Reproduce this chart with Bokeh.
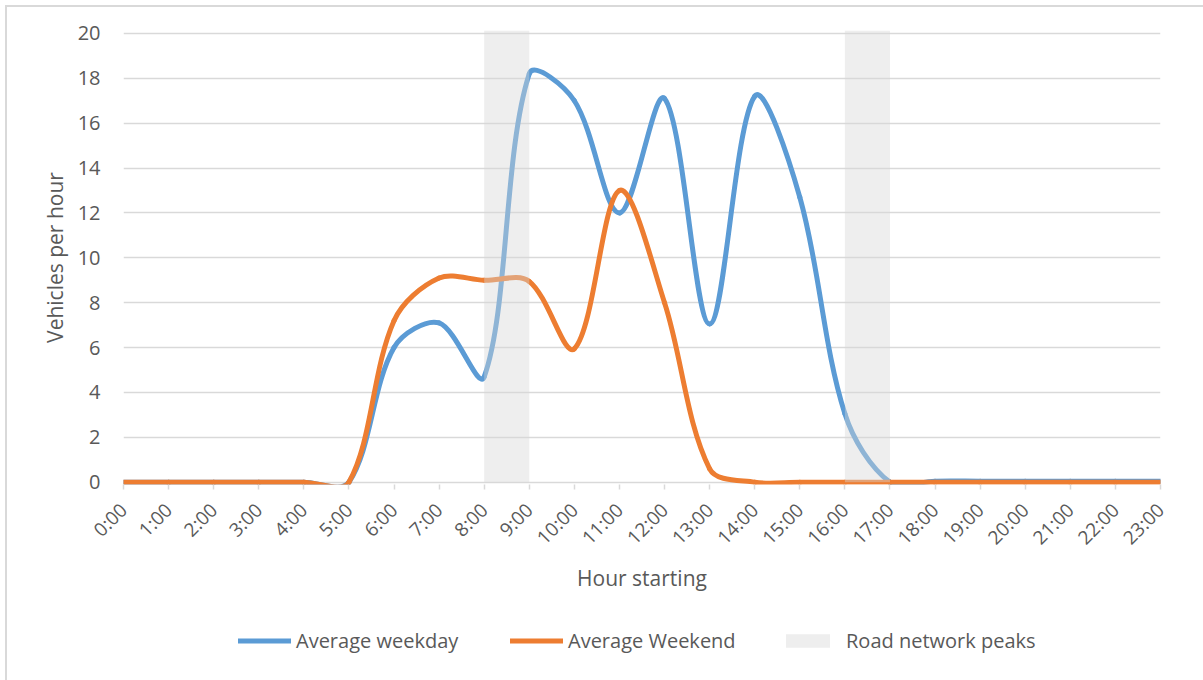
import numpy as np
from bokeh.plotting import figure
from bokeh.layouts import column
from bokeh.models import Range1d, FixedTicker, Legend, LegendItem, ColumnDataSource
from bokeh.embed import file_html
from bokeh.resources import INLINE

# ---------------- data ----------------
hour_labels = ["0:00", "1:00", "2:00", "3:00", "4:00", "5:00", "6:00", "7:00",
               "8:00", "9:00", "10:00", "11:00", "12:00", "13:00", "14:00", "15:00",
               "16:00", "17:00", "18:00", "19:00", "20:00", "21:00", "22:00", "23:00"]
hours = list(range(24))
weekday = [0, 0, 0, 0, 0, 0, 6.0, 7.1, 4.7, 18.2, 17.0, 12.0,
           17.1, 7.05, 17.2, 12.7, 3.05, 0, 0.05, 0.05, 0.05, 0.05, 0.05, 0.05]
weekend = [0, 0, 0, 0, 0, 0, 7.2, 9.1, 9.0, 8.95, 5.95, 13.0,
           8.0, 0.6, 0, 0, 0, 0, 0, 0, 0, 0, 0, 0]
peak_start = [8, 16]
peak_end = [9, 17]
peak_top = [20.13, 20.13]
y_ticks = [0, 2, 4, 6, 8, 10, 12, 14, 16, 18, 20]
series_names = ["Average weekday", "Average Weekend", "Road network peaks"]

# ---------------- layout ----------------
W = 1203
ML, MR, MT, MB = 123, 43, 30, 126
FW, FH = 1037, 454
LEG_H = 70
Y0, Y1 = -0.1, 20.13
SX = FW / 23.0
SY = FH / (Y1 - Y0)

FONT = "Open Sans"
TXT = "#595959"
BLUE = "#5b9bd5"
ORANGE = "#ed7d31"
BAND = "#d6d6d6"
BAND_ALPHA = 0.42
LW = 5
NAN = float("nan")


def smooth_segments(xs, ys):
    """Bezier segments through the data points (Excel-like smoothing,
    computed in screen space)."""
    X = np.asarray(xs, float) * SX
    Y = np.asarray(ys, float) * SY
    n = len(X)

    def d(i, j):
        return float(np.hypot(X[j] - X[i], Y[j] - Y[i]))

    out = {k: [] for k in ("x0", "y0", "x1", "y1", "cx0", "cy0", "cx1", "cy1")}
    for i in range(n - 1):
        if i == 0:
            ax = X[i] + (X[i + 1] - X[i]) / 3
            ay = Y[i] + (Y[i + 1] - Y[i]) / 3
        else:
            f = d(i, i + 1) / (d(i - 1, i) + d(i, i + 1)) / 3
            ax = X[i] + (X[i + 1] - X[i - 1]) * f
            ay = Y[i] + (Y[i + 1] - Y[i - 1]) * f
        j = i + 1
        if j == n - 1:
            bx = X[j] - (X[j] - X[i]) / 3
            by = Y[j] - (Y[j] - Y[i]) / 3
        else:
            f = d(i, j) / (d(i, j) + d(j, j + 1)) / 3
            bx = X[j] - (X[j + 1] - X[i]) * f
            by = Y[j] - (Y[j + 1] - Y[i]) * f
        out["x0"].append(X[i] / SX); out["y0"].append(Y[i] / SY)
        out["x1"].append(X[j] / SX); out["y1"].append(Y[j] / SY)
        out["cx0"].append(ax / SX); out["cy0"].append(ay / SY)
        out["cx1"].append(bx / SX); out["cy1"].append(by / SY)
    return ColumnDataSource(out)


p = figure(frame_width=FW, frame_height=FH, x_range=Range1d(0, 23), y_range=Range1d(Y0, Y1),
           output_backend="svg", toolbar_location=None,
           min_border_left=ML, min_border_right=MR, min_border_top=MT, min_border_bottom=MB)
p.outline_line_color = None
p.background_fill_color = "white"
p.border_fill_color = "white"
p.border_fill_alpha = 0
p.styles = {"box-shadow": "inset 5px 5px 0 0 #ffffff, inset 7px 7px 0 0 #d9d9d9",
            "background-color": "#ffffff"}

# grid
p.xgrid.visible = False
p.ygrid.ticker = FixedTicker(ticks=y_ticks)
p.ygrid.grid_line_color = "#d9d9d9"
p.ygrid.grid_line_width = 1.5

# y axis
p.yaxis.ticker = FixedTicker(ticks=y_ticks)
p.yaxis.axis_line_color = None
p.yaxis.major_tick_line_color = None
p.yaxis.minor_tick_line_color = None
p.yaxis.major_tick_out = 0
p.yaxis.major_tick_in = 0
p.yaxis.major_label_standoff = 23
p.yaxis.major_label_text_font = FONT
p.yaxis.major_label_text_font_size = "20px"
p.yaxis.major_label_text_color = TXT
p.yaxis.axis_label = "Vehicles per hour"
p.yaxis.axis_label_text_font = FONT
p.yaxis.axis_label_text_font_size = "21px"
p.yaxis.axis_label_text_font_style = "normal"
p.yaxis.axis_label_text_color = TXT
p.yaxis.axis_label_standoff = 6

# x axis
p.xaxis.ticker = FixedTicker(ticks=hours)
p.xaxis.major_label_overrides = {h: lab for h, lab in zip(hours, hour_labels)}
p.xaxis.major_label_orientation = np.pi / 4
p.xaxis.axis_line_color = None
p.xaxis.major_tick_line_color = "#d9d9d9"
p.xaxis.major_tick_line_width = 1.5
p.xaxis.minor_tick_line_color = None
p.xaxis.major_tick_out = 5
p.xaxis.major_tick_in = 0
p.xaxis.major_label_standoff = 17
p.xaxis.major_label_text_font = FONT
p.xaxis.major_label_text_font_size = "19px"
p.xaxis.major_label_text_color = TXT
p.xaxis.axis_label = "Hour starting"
p.xaxis.axis_label_text_font = FONT
p.xaxis.axis_label_text_font_size = "21px"
p.xaxis.axis_label_text_font_style = "normal"
p.xaxis.axis_label_text_color = TXT
p.xaxis.axis_label_standoff = 2

# series
p.bezier(x0="x0", y0="y0", x1="x1", y1="y1", cx0="cx0", cy0="cy0", cx1="cx1", cy1="cy1",
         source=smooth_segments(hours, weekday), line_color=BLUE, line_width=LW, line_cap="round")
p.bezier(x0="x0", y0="y0", x1="x1", y1="y1", cx0="cx0", cy0="cy0", cx1="cx1", cy1="cy1",
         source=smooth_segments(hours, weekend), line_color=ORANGE, line_width=LW, line_cap="round")
p.quad(left=peak_start, right=peak_end, bottom=[0, 0], top=peak_top,
       fill_color=BAND, fill_alpha=BAND_ALPHA, line_color=None)

# ---------------- legend strip ----------------
lg = figure(width=W, height=LEG_H, x_range=Range1d(0, W), y_range=Range1d(0, LEG_H),
            output_backend="svg", toolbar_location=None, x_axis_type=None, y_axis_type=None,
            min_border=0)
lg.outline_line_color = None
lg.border_fill_alpha = 0
lg.background_fill_alpha = 0
lg.styles = {"box-shadow": "inset 5px 0 0 0 #ffffff, inset 7px 0 0 0 #d9d9d9",
             "background-color": "#ffffff"}

# legend keys (styled like the series; their single point is NaN so nothing is drawn)
k_wd = lg.line(x=[NAN], y=[NAN], line_color=BLUE, line_width=LW, line_cap="round")
k_we = lg.line(x=[NAN], y=[NAN], line_color=ORANGE, line_width=LW, line_cap="round")
k_pk = lg.quad(left=[NAN], right=[NAN], bottom=[NAN], top=[NAN], fill_color=BAND,
               fill_alpha=BAND_ALPHA, line_color=None)

# the column aligns this strip's frame with the chart's frame (left edge at ML)
def add_legend(label, renderer, page_x, y, gw, gh, standoff):
    leg = Legend(items=[LegendItem(label=label, renderers=[renderer])],
                 location=(page_x - ML, y),
                 orientation="horizontal", padding=0, margin=0, spacing=0,
                 glyph_width=gw, glyph_height=gh, label_standoff=standoff, label_height=17,
                 label_text_font=FONT, label_text_font_size="20px", label_text_color=TXT,
                 border_line_color=None, background_fill_alpha=0)
    lg.add_layout(leg, "center")


add_legend(series_names[0], k_wd, 238, 26, 53, 17, 5)
add_legend(series_names[1], k_we, 510, 26, 53, 17, 5)
add_legend(series_names[2], k_pk, 780, 26, 55, 17, 11)

layout = column(p, lg, spacing=0)
open("out.html", "w").write(file_html(layout, INLINE))
